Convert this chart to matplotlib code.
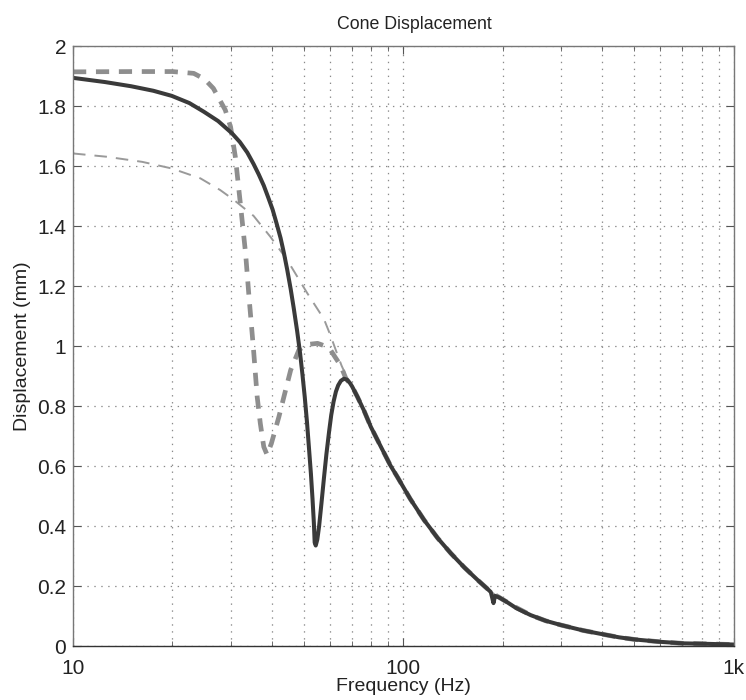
import numpy as np
import matplotlib
matplotlib.use("Agg")
import matplotlib.pyplot as plt
from matplotlib.ticker import FixedLocator, NullFormatter

plt.rcParams['font.family'] = ['Liberation Sans', 'DejaVu Sans']
plt.rcParams['lines.scale_dashes'] = False

# response above ~70 Hz, shared by all three curves
tail_freq = [70, 72.6, 76, 79.7, 85, 91.6, 95.9, 105, 115.6, 127, 139.3, 153, 167.9,
             180, 190, 200, 220, 243, 270, 300, 350, 398, 450, 501, 600, 700, 850, 1000]
tail_disp = [0.865, 0.831, 0.785, 0.731, 0.67, 0.60, 0.564, 0.49, 0.42, 0.36, 0.309, 0.262, 0.22,
             0.19, 0.17, 0.155, 0.128, 0.103, 0.084, 0.07, 0.052, 0.04, 0.029, 0.022, 0.014, 0.009, 0.007, 0.005]

# solid: full system
solid_freq = [10, 12.5, 15, 17.5, 19.9, 22.5, 24.9, 27.5, 30.3, 32, 33.7, 35.2, 36.5, 37.8,
              39, 40.2, 41.3, 42.5, 43.5, 44.5, 45.6, 46.6, 47.7, 48.7, 49.5, 50.3, 51.1, 51.8,
              52.5, 53.1, 53.6, 53.9, 54.3, 54.9, 55.6, 56.5, 57.5, 58.5, 59.6, 60.5, 61.5,
              62.5, 63.5, 64.7, 66.1, 67.5, 69, 70, 72.6, 76, 79.7, 85, 91.6, 95.9, 105, 115.6,
              127, 139.3, 153, 167.9, 180, 184, 187.5, 189.5, 195, 205, 220, 243, 270, 300,
              350, 398, 450, 501, 600, 700, 850, 1000]
solid_disp = [1.894, 1.880, 1.866, 1.851, 1.834, 1.81, 1.781, 1.75, 1.709, 1.68, 1.645, 1.607,
              1.572, 1.535, 1.495, 1.455, 1.41, 1.36, 1.31, 1.255, 1.19, 1.125, 1.05, 0.975, 0.905,
              0.83, 0.745, 0.66, 0.575, 0.49, 0.41, 0.345, 0.335, 0.355, 0.40, 0.475, 0.56, 0.64,
              0.715, 0.77, 0.815, 0.848, 0.869, 0.884, 0.891, 0.888, 0.876, 0.865, 0.831, 0.785,
              0.731, 0.67, 0.60, 0.564, 0.49, 0.42, 0.36, 0.309, 0.262, 0.22, 0.19, 0.18, 0.143,
              0.167, 0.162, 0.148, 0.126, 0.103, 0.084, 0.07, 0.052, 0.04, 0.029, 0.022, 0.014,
              0.009, 0.007, 0.005]

# thick dashed: tuned port
port_freq = [10, 15, 20, 23.2, 25, 26.6, 28.9, 30, 31.0, 32.1, 33.3, 34.1, 35.2, 36.1, 36.9,
             37.8, 38.7, 39.9, 42.0, 43.5, 45.6, 48.3, 51, 55, 58, 60.2, 62, 64.6, 67]
port_disp = [1.914, 1.915, 1.915, 1.909, 1.89, 1.859, 1.787, 1.73, 1.631, 1.476, 1.309, 1.164,
             0.987, 0.831, 0.742, 0.664, 0.637, 0.677, 0.764, 0.831, 0.92, 0.987, 1.005, 1.009,
             1.0, 0.987, 0.965, 0.935, 0.892]

# thin dashed: sealed enclosure
sealed_freq = [10, 12.65, 16.2, 19.9, 24.3, 27.9, 30.7, 35.2, 39.6, 44.5, 51.2, 57.5, 60.2,
               63, 65, 67.5]
sealed_disp = [1.642, 1.631, 1.614, 1.592, 1.559, 1.52, 1.487, 1.434, 1.364, 1.287, 1.176,
               1.09, 1.035, 0.975, 0.935, 0.895]

fig = plt.figure(figsize=(7.46, 7.0), dpi=100)
ax = fig.add_axes([0.0979, 0.0771, 0.8855, 0.8571])

ax.plot(sealed_freq + tail_freq, sealed_disp + tail_disp, color='#9a9a9a', lw=1.4,
        linestyle=(0, (9, 6.5)))
ax.plot(port_freq + tail_freq, port_disp + tail_disp, color='#8e8e8e', lw=3.4,
        linestyle=(0, (9.5, 7)))
ax.plot(solid_freq, solid_disp, color='#3a3a3a', lw=2.9)

ax.set_xscale('log')
ax.set_xlim(10, 1000)
ax.set_ylim(0, 2)

ax.xaxis.set_major_locator(FixedLocator([10, 100, 1000]))
ax.set_xticklabels(['10', '100', '1k'])
minors = [m * d for d in (10, 100) for m in range(2, 10)]
ax.xaxis.set_minor_locator(FixedLocator(minors))
ax.xaxis.set_minor_formatter(NullFormatter())
yt = np.arange(0, 2.01, 0.2)
ax.set_yticks(yt)
ax.set_yticklabels(['0', '0.2', '0.4', '0.6', '0.8', '1', '1.2', '1.4', '1.6', '1.8', '2'])

ax.grid(which='both', axis='x', color='#8a8a8a', linestyle=(0, (1, 4)), lw=0.9)
ax.grid(which='major', axis='y', color='#8a8a8a', linestyle=(0, (1, 4)), lw=0.9)
ax.set_axisbelow(True)

ax.tick_params(which='both', direction='in', top=True, right=True, labelsize=15,
               colors='#222222')
ax.tick_params(which='major', length=6, color='#555555')
ax.tick_params(which='minor', length=3.5, color='#555555')
ax.tick_params(axis='x', pad=9)
ax.tick_params(axis='y', pad=5)
for s in ax.spines.values():
    s.set_color('#777777')
    s.set_linewidth(1.0)
ax.spines['bottom'].set_color('#333333')

ax.set_xlabel('Frequency (Hz)', fontsize=14, color='#222222', labelpad=0)
ax.set_ylabel('Displacement (mm)', fontsize=14, color='#222222', labelpad=4)
ax.set_title('Cone Displacement', fontsize=12.8, color='#222222', pad=12, x=0.516)

fig.savefig('out.png', dpi=100, facecolor='white')
